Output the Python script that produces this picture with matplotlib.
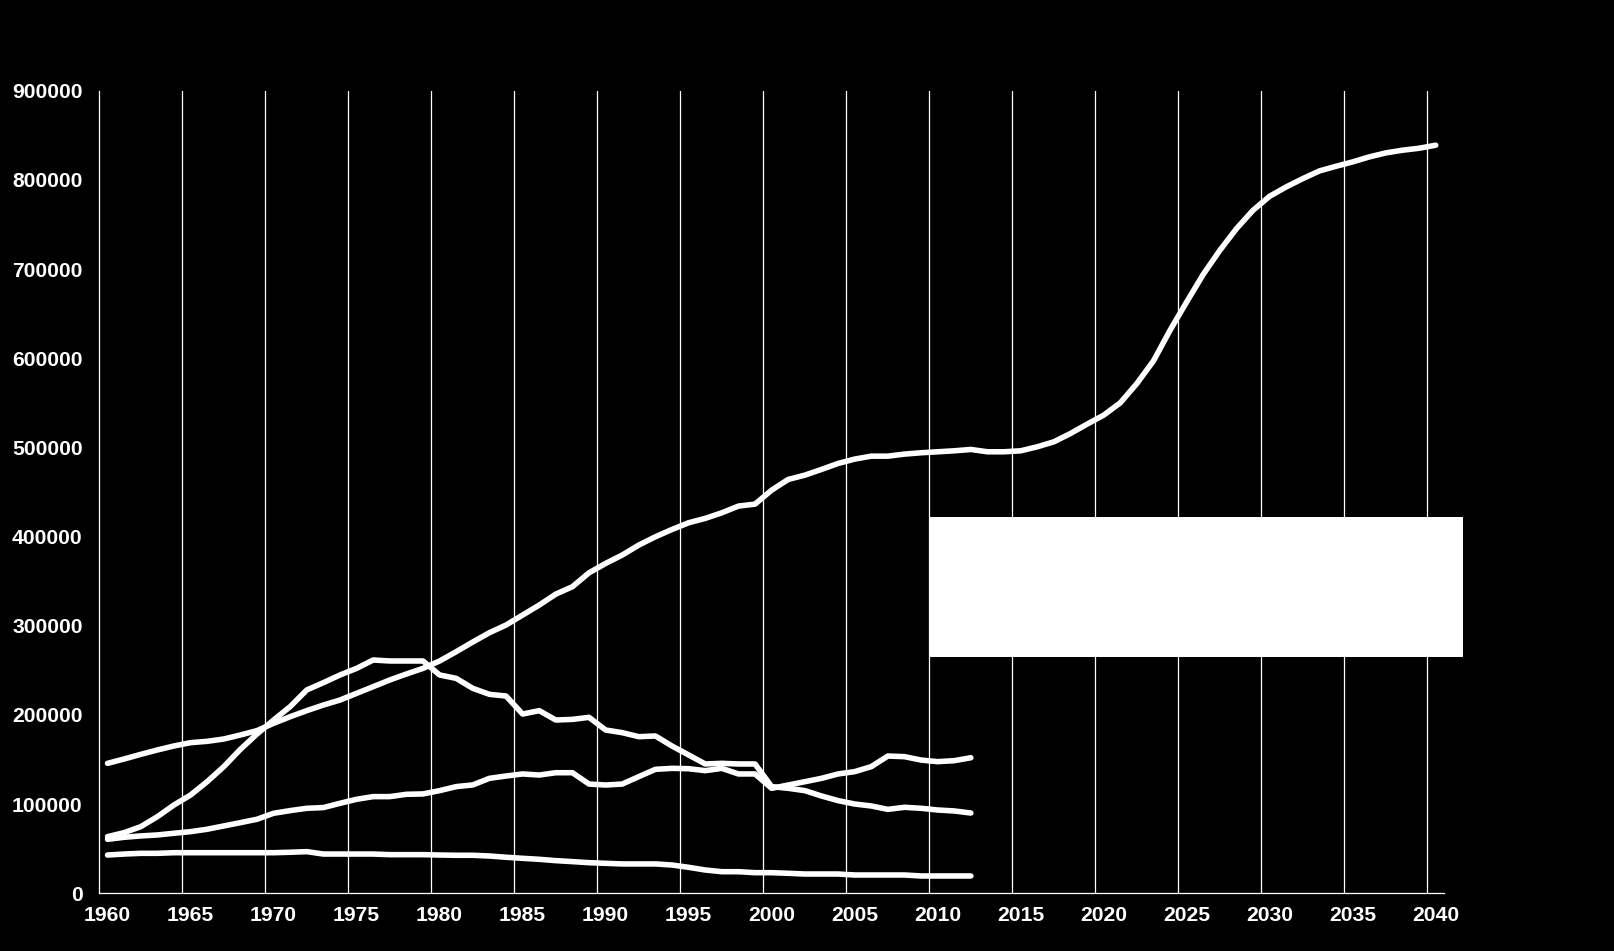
import matplotlib
matplotlib.use("Agg")
import matplotlib.pyplot as plt
from matplotlib.patches import Rectangle

plt.rcParams['font.family'] = ['Liberation Sans', 'DejaVu Sans']

years_hist = list(range(1960, 2013))
years_main = list(range(1960, 2041))

series_main = [
    145700, 150600, 155800, 160700, 165200, 168900, 170400, 173000, 177500, 182400,
    190600, 198000, 204800, 211100, 216700, 224200, 231700, 239200, 245900, 252200,
    260500, 270900, 281800, 292200, 300800, 312000, 323200, 335500, 343800, 359400,
    369900, 379300, 390500, 399800, 408000, 415500, 420400, 426700, 434200, 436400,
    452100, 464100, 468900, 475300, 482000, 486900, 490200, 490200, 492500, 494000,
    495100, 496200, 497700, 495100, 495100, 496200, 500700, 506300, 515600, 526100,
    536200, 550000, 571700, 597100, 631500, 663200, 694200, 721100, 745400, 766000,
    781700, 792200, 801500, 810100, 815300, 820200, 825800, 830300, 833300, 835500,
    838900,
]

series_b = [
    63500, 68000, 74700, 85900, 99000, 110200, 125200, 142000, 161400, 178600,
    194300, 209300, 228000, 236200, 244800, 252200, 261600, 260500, 260500, 260500,
    244800, 241000, 229800, 223100, 221200, 201000, 204800, 194300, 195000, 197300,
    183100, 180100, 175600, 176400, 165100, 155100, 145000, 145700, 145000, 145000,
    119600, 117700, 115100, 109100, 103900, 100100, 97900, 94100, 96400, 95300,
    93400, 92300, 90000,
]

series_c = [
    60500, 62800, 64300, 65400, 67300, 69100, 71800, 75500, 79200, 83000,
    89700, 92700, 95300, 96100, 100900, 105400, 108400, 108400, 111000, 111400,
    115100, 119600, 121500, 128900, 131500, 133800, 132600, 135200, 135200, 122500,
    121400, 122500, 130800, 139000, 140100, 139700, 137500, 140100, 133800, 133800,
    117700, 121400, 125100, 128900, 133800, 136400, 142000, 153900, 153200, 149400,
    147600, 148700, 152000,
]

series_d = [
    42900, 44000, 44800, 44800, 45500, 45500, 45500, 45500, 45500, 45500,
    45500, 46000, 46700, 44000, 44000, 44000, 44000, 43300, 43300, 43300,
    42900, 42600, 42600, 41800, 40400, 39200, 38100, 36600, 35500, 34300,
    33600, 32900, 32900, 32900, 31700, 29100, 26100, 24200, 24200, 23100,
    23100, 22400, 21600, 21600, 21600, 20500, 20500, 20500, 20500, 19400,
    19400, 19400, 19400,
]

major_years = list(range(1960, 2041, 5))
y_ticks = list(range(0, 900001, 100000))

fig = plt.figure(figsize=(16.14, 9.51), dpi=100, facecolor='black')
ax = fig.add_axes([0.0615, 0.0607, 0.8332, 0.8439], facecolor='black')

lw = 4.0
for ys, vals in [(years_main, series_main), (years_hist, series_b),
                 (years_hist, series_c), (years_hist, series_d)]:
    ax.plot(ys, vals, color='white', lw=lw, solid_capstyle='round',
            solid_joinstyle='round', zorder=3)

ax.set_xlim(1959.5, 2040.5)
ax.set_ylim(0, 900000)

ax.set_xticks(major_years)
ax.set_xticklabels([str(y) for y in major_years])
ax.set_xticks([y - 0.5 for y in major_years[1:]], minor=True)
ax.grid(which='minor', axis='x', color='white', lw=0.9)
ax.set_yticks(y_ticks)
ax.set_yticklabels([str(v) for v in y_ticks])

ax.tick_params(axis='both', which='both', length=0, colors='white',
               labelsize=15.2)
ax.tick_params(axis='x', pad=9)
ax.tick_params(axis='y', pad=12)
for lab in ax.get_xticklabels() + ax.get_yticklabels():
    lab.set_fontweight('bold')

for s in ['top', 'right']:
    ax.spines[s].set_visible(False)
for s in ['left', 'bottom']:
    ax.spines[s].set_color('white')
    ax.spines[s].set_linewidth(0.9)

box = Rectangle((2009.55, 264900), 32.1, 157300, facecolor='white',
                edgecolor='none', zorder=5, clip_on=False)
ax.add_patch(box)

fig.savefig('out.png', dpi=100, facecolor='black')
